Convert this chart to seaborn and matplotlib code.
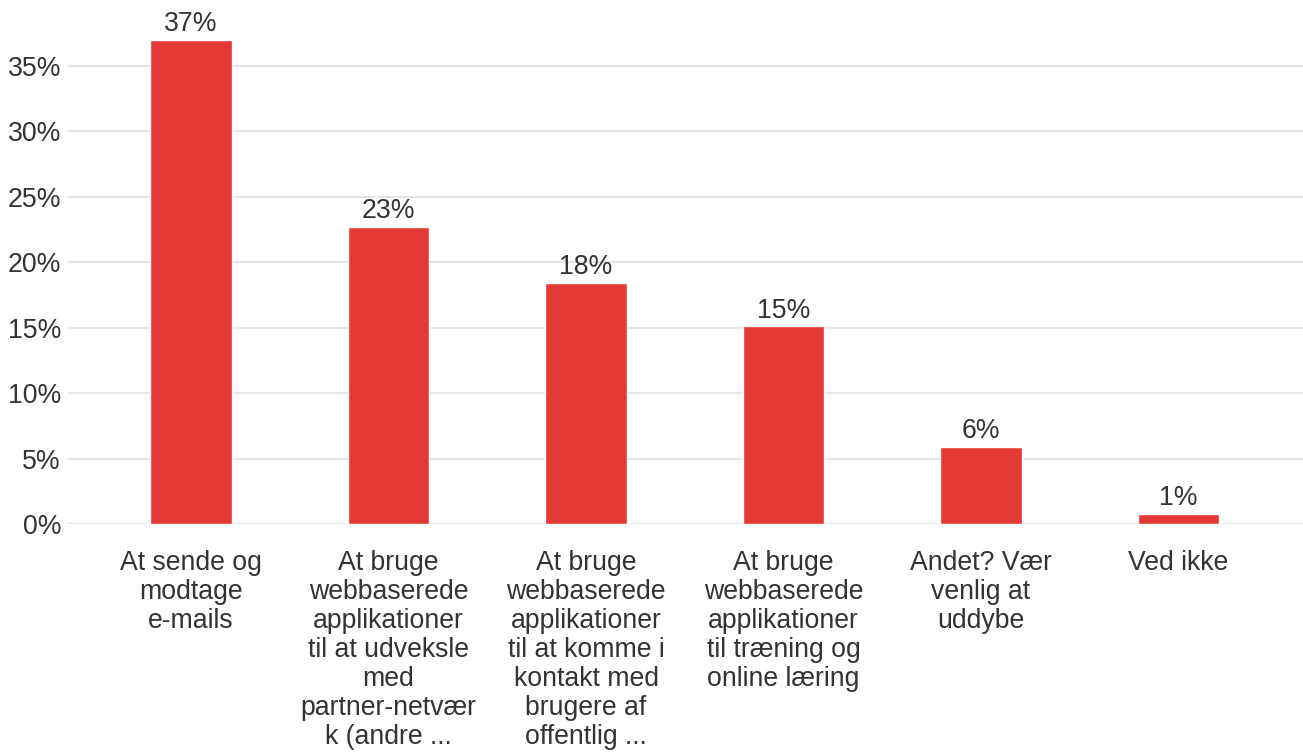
import matplotlib
matplotlib.use("Agg")
import matplotlib.pyplot as plt
import seaborn as sns
import pandas as pd

categories = [
    "At sende og\nmodtage\ne-mails",
    "At bruge\nwebbaserede\napplikationer\ntil at udveksle\nmed\npartner-netvær\nk (andre ...",
    "At bruge\nwebbaserede\napplikationer\ntil at komme i\nkontakt med\nbrugere af\noffentlig ...",
    "At bruge\nwebbaserede\napplikationer\ntil træning og\nonline læring",
    "Andet? Vær\nvenlig at\nuddybe",
    "Ved ikke",
]
values = [37.0, 22.7, 18.4, 15.1, 5.9, 0.8]
value_labels = ["37%", "23%", "18%", "15%", "6%", "1%"]
yticks = [0, 5, 10, 15, 20, 25, 30, 35]
ytick_labels = ["0%", "5%", "10%", "15%", "20%", "25%", "30%", "35%"]

sns.set_theme(style="white")
plt.rcParams["font.family"] = ["Liberation Sans", "DejaVu Sans"]

W, H = 1303, 753
fig = plt.figure(figsize=(W / 100, H / 100), dpi=100)
ax_left, ax_right = 68, 1303
ax_bottom_px, ax_top_px = 524, 8
ax = fig.add_axes([ax_left / W, 1 - ax_bottom_px / H, (ax_right - ax_left) / W, (ax_bottom_px - ax_top_px) / H])

df = pd.DataFrame({"cat": categories, "val": values})
sns.barplot(data=df, x="cat", y="val", color="#E53935", saturation=1, width=0.415, ax=ax, zorder=3)

px_per_unit = 197.5
ax.set_xlim((ax_left - 191) / px_per_unit, (ax_right - 191) / px_per_unit)
px_per_pct = (524 - 66) / 35
ax.set_ylim(0, (ax_bottom_px - ax_top_px) / px_per_pct)

fs = 19.2
ax.set_yticks(yticks)
ax.set_yticklabels(ytick_labels)
ax.yaxis.grid(True, color="#e6e6e6", linewidth=1.6, zorder=0)
ax.xaxis.grid(False)
for s in ax.spines.values():
    s.set_visible(False)
ax.set_xlabel("")
ax.set_ylabel("")
ax.tick_params(axis="y", length=0, pad=5, labelsize=fs, labelcolor="#333333")
ax.tick_params(axis="x", length=0, pad=19, labelsize=fs, labelcolor="#333333")
for lab in ax.get_xticklabels():
    lab.set_linespacing(1.15)
    lab.set_ha("center")

for i, (v, t) in enumerate(zip(values, value_labels)):
    ax.annotate(t, xy=(i, v), xytext=(0, 2), textcoords="offset points",
                ha="center", va="bottom", fontsize=fs, color="#333333")

fig.savefig("out.png", dpi=100)
